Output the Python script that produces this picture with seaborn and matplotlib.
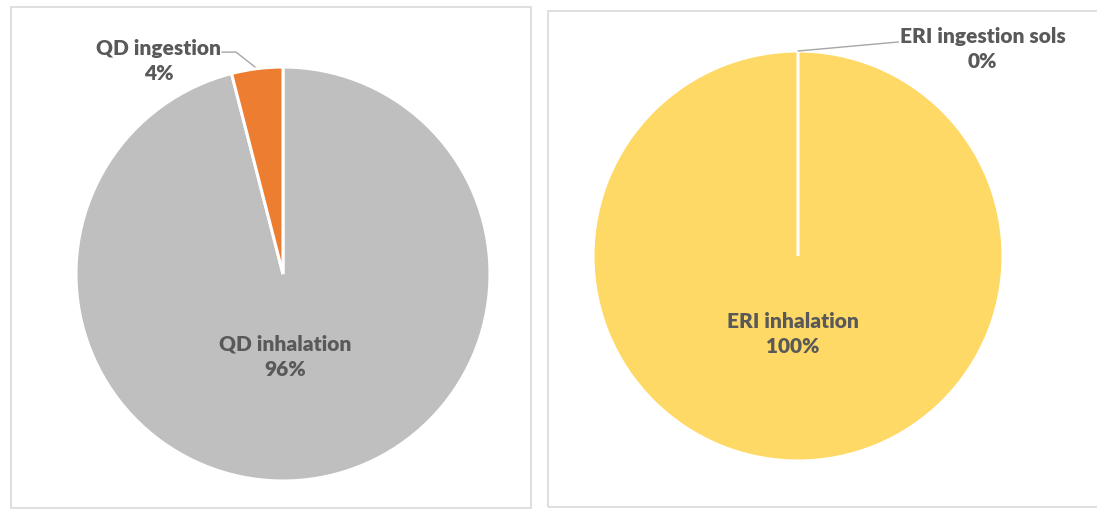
import matplotlib
matplotlib.use("Agg")
import matplotlib.pyplot as plt
from matplotlib.patches import Rectangle
import seaborn as sns

sns.set_theme(style="white")
plt.rcParams["font.family"] = ["Lato", "DejaVu Sans"]

# Exposure pathway shares (%)
qd_labels = ["QD inhalation", "QD ingestion"]
qd_values = [96, 4]
qd_colors = ["#BFBFBF", "#ED7D31"]

eri_labels = ["ERI inhalation", "ERI ingestion sols"]
eri_values = [100, 0]
eri_colors = ["#FFD966", "#A5A5A5"]

W, H = 1097, 509
fig = plt.figure(figsize=(W / 100, H / 100), dpi=100)
fig.patch.set_facecolor("white")

TEXT = "#595959"
LEADER = "#A6A6A6"


def px_axes(cx, cy, r):
    return fig.add_axes([(cx - r) / W, (H - cy - r) / H, 2 * r / W, 2 * r / H])


def draw_pie(ax, values, colors):
    ax.pie(values, colors=colors, startangle=90, counterclock=False,
           wedgeprops=dict(edgecolor="white", linewidth=2.2), radius=1)
    ax.set_xlim(-1, 1)
    ax.set_ylim(-1, 1)
    ax.set_axis_off()


def label(ax, xy, name, value):
    ax.text(xy[0], xy[1], f"{name}\n{value}%", ha="center", va="center",
            fontsize=15, fontweight="heavy", color=TEXT, linespacing=1.38,
            clip_on=False)


# Panel frames
fig.add_artist(Rectangle((11 / W, 1 - 508 / H), 520 / W, 501 / H,
                         transform=fig.transFigure, fill=False,
                         edgecolor="#D9D9D9", linewidth=1.2))
fig.add_artist(Rectangle((548 / W, 1 - 507 / H), 560 / W, 496 / H,
                         transform=fig.transFigure, fill=False,
                         edgecolor="#D9D9D9", linewidth=1.2))

# Left pie
ax1 = px_axes(283, 274, 207)
draw_pie(ax1, qd_values, qd_colors)
label(ax1, (0.01, -0.40), qd_labels[0], qd_values[0])
label(ax1, (-0.60, 1.03), qd_labels[1], qd_values[1])
ax1.plot([-0.295, -0.227, -0.135], [1.072, 1.072, 1.0], color=LEADER,
         linewidth=1, clip_on=False)

# Right pie
ax2 = px_axes(798, 256, 205)
draw_pie(ax2, eri_values, eri_colors)
label(ax2, (-0.024, -0.38), eri_labels[0], eri_values[0])
label(ax2, (0.90, 1.01), eri_labels[1], eri_values[1])
ax2.plot([0.0, 0.49], [1.0, 1.044], color=LEADER, linewidth=1, clip_on=False)

fig.savefig("out.png", dpi=100, facecolor="white")
